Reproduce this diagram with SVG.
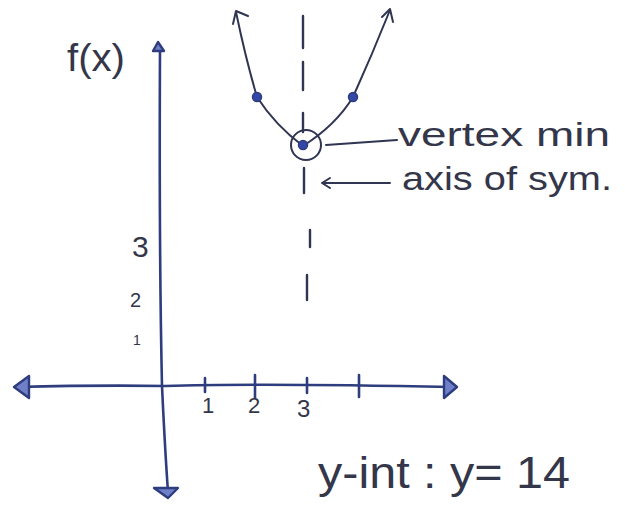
<svg xmlns="http://www.w3.org/2000/svg" width="625" height="518" viewBox="0 0 625 518">
<style>
.ax{fill:none;stroke:#2e3d7e;stroke-width:2.6;stroke-linecap:round;stroke-linejoin:round}
.head{fill:#6f7fc8;stroke:#2e3d7e;stroke-width:2.4;stroke-linejoin:round}
.pen{fill:none;stroke:#2f3552;stroke-width:2;stroke-linecap:round;stroke-linejoin:round}
.dash{fill:none;stroke:#2f3552;stroke-width:2.4;stroke-linecap:round}
.dot{fill:#3347a6;stroke:#2e3d7e;stroke-width:1.5}
.t{font-family:"Liberation Sans",sans-serif;fill:#34364a;font-weight:300}
</style>
<rect width="625" height="518" fill="#ffffff"/>
<g id="axes">
<path class="ax" d="M16 387 Q100 385 165 386 Q260 383 452 387"/>
<path class="head" d="M29 376 L14 387 L29 398 Z"/>
<path class="head" d="M444 376 L457 387 L444 398 Z"/>
<path class="ax" d="M160 50 Q159 250 162 386 Q165 450 168 492"/>
<path class="head" d="M153 51 L158 42 L164 51 Z"/>
<path class="head" d="M154 488 L168 498 L178 488 Z"/>
<path class="ax" d="M205 378 L205 392 M255 375 L255 398 M307 378 L307 393 M359 375 L359 397"/>
</g>
<g id="axis-of-symmetry">
<path class="dash" d="M303 16 L303 48 M303 62 L303 90 M303 113 L303 132 M304 168 L304 193 M310 230 L310 247 M307 275 L307 300"/>
</g>
<g id="parabola">
<path class="pen" d="M236 12 Q246 60 257 97 Q275 125 303 146"/>
<path class="pen" d="M303 146 Q336 125 353 97 Q372 55 390 10"/>
<path class="pen" d="M233 24 L236 11 L248 16"/>
<path class="pen" d="M382 17 L390 9 L393 22"/>
<circle class="dot" cx="257" cy="97" r="4.5"/>
<circle class="dot" cx="353" cy="97" r="4.5"/>
<circle class="dot" cx="303" cy="145" r="4.5"/>
<circle class="pen" cx="306" cy="145" r="15"/>
</g>
<g id="labels">
<path class="pen" d="M326 145 L397 140"/>
<path class="pen" d="M390 183 L323 183 M330 178 L322 183 L330 188"/>
<text class="t" x="398" y="146" font-size="34" textLength="212" lengthAdjust="spacingAndGlyphs">vertex  min</text>
<text class="t" x="402" y="190" font-size="34" textLength="210" lengthAdjust="spacingAndGlyphs">axis of sym.</text>
<text class="t" x="67" y="71" font-size="38" textLength="58" lengthAdjust="spacingAndGlyphs">f(x)</text>
<text class="t" x="132" y="257" font-size="30">3</text>
<text class="t" x="130" y="307" font-size="20">2</text>
<text class="t" x="133" y="345" font-size="14">1</text>
<text class="t" x="202" y="413" font-size="22">1</text>
<text class="t" x="248" y="413" font-size="22">2</text>
<text class="t" x="297" y="417" font-size="24">3</text>
<text class="t" x="318" y="488" font-size="44" textLength="252" lengthAdjust="spacingAndGlyphs">y-int : y= 14</text>
</g>
</svg>
